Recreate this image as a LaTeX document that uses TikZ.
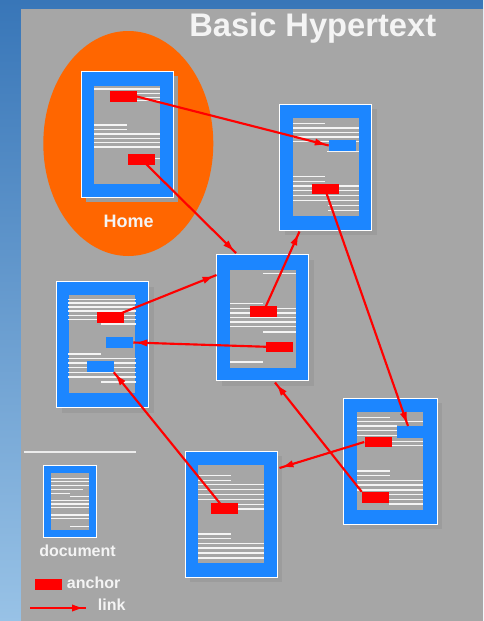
\documentclass[tikz,border=0pt]{standalone}
\usepackage{fontspec}
\setmainfont{Liberation Sans}
\usetikzlibrary{arrows.meta,decorations.markings}
\definecolor{bgtop}{RGB}{56,118,184}
\definecolor{bgbot}{RGB}{152,194,230}
\definecolor{panel}{RGB}{166,166,166}
\definecolor{shadowgray}{RGB}{156,156,156}
\definecolor{docblue}{RGB}{28,134,255}
\definecolor{homeorange}{RGB}{255,102,0}
\definecolor{ancred}{RGB}{255,0,0}
\definecolor{txtwhite}{RGB}{244,244,244}
\pgfdeclarelayer{linklayer}
\pgfdeclarelayer{toplayer}
\pgfsetlayers{main,linklayer,toplayer}
\tikzset{
  docframe/.style={rectangle, fill=docblue, draw=white, line width=0.6pt, inner sep=0pt, minimum width=69pt, minimum height=94.5pt},
  docshadow/.style={rectangle, fill=shadowgray, inner sep=0pt, minimum width=69pt, minimum height=94.5pt},
  docinner/.style={rectangle, fill=panel, inner sep=0pt, minimum width=49.5pt, minimum height=73.5pt},
  redanc/.style={rectangle, fill=ancred, inner sep=0pt, minimum width=20.25pt, minimum height=7.9pt},
  blueanc/.style={rectangle, fill=docblue, inner sep=0pt, minimum width=20.25pt, minimum height=8.2pt},
  txt/.style={draw=txtwhite, line width=1.1pt},
  hlink/.style={draw=ancred, line width=1.6pt, postaction={decorate},
    decoration={markings, mark=at position -3pt with {\arrow[ancred]{Triangle[length=7.5pt,width=4.8pt]}}}},
  lbl/.style={text=txtwhite, font=\bfseries, inner sep=0pt}
}
\begin{document}
\begin{tikzpicture}[x=0.75pt,y=-0.75pt]
\useasboundingbox (0,0) rectangle (483,621);
% background
\shade[top color=bgtop, bottom color=bgbot] (0,0) rectangle (483,621);
\fill[panel] (21,9) rectangle (483,621);
% home ellipse
\fill[homeorange] (128.3,143.5) ellipse [x radius=85, y radius=112.5];
\node[lbl, font=\bfseries\fontsize{13.5}{15}\selectfont] (homelbl) at (128.7,221) {Home};
% shadows
\node[docshadow] (s1) at (132,139) {};
\node[docshadow] (s2) at (330.5,172) {};
\node[docshadow] (s3) at (267.5,322.5) {};
\node[docshadow] (s4) at (107.5,349.5) {};
\node[docshadow] (s5) at (395.5,466) {};
\node[docshadow] (s6) at (236.3,519.3) {};
% documents
\node[docframe] (d1) at (127,134) {};
\node[docframe] (d2) at (325.5,167) {};
\node[docframe] (d3) at (262.5,317.5) {};
\node[docframe] (d4) at (102.5,344.5) {};
\node[docframe, minimum width=70pt] (d5) at (390.5,461) {};
\node[docframe] (d6) at (231.3,514.3) {};
\node[docinner] (i1) at (127.3,135) {};
\node[docinner] (i2) at (326,167) {};
\node[docinner] (i3) at (263,318.5) {};
\node[docinner] (i4) at (102,344) {};
\node[docinner] (i5) at (390.3,461) {};
\node[docinner] (i6) at (231,514.2) {};
% text lines
\foreach \y/\a/\b in {89/94/160,93.3/137/160,97.3/137/160,100.7/137/160,
  125/94/127,129.5/94/127,134.2/94/160,138.4/94/160,142.6/94/160,146.8/94/160,158.3/128/160}
  \draw[txt] (\a,\y) -- (\b,\y);
\foreach \y/\a/\b in {123.3/293/325,128/293/359,132.5/293/359,137/293/359,141.7/293/359,151.5/327/359,
  176.7/293/325,181.3/293/325,186/293/359,190.5/293/359,195.5/293/359,200.5/293/359,205.5/328/359,210.5/328/359}
  \draw[txt] (\a,\y) -- (\b,\y);
\foreach \y/\a/\b in {273.7/263/296,303.3/230/263,308.3/230/296,312.8/230/296,317.4/230/296,321.8/230/296,326.3/230/296,331.8/263/296,362/230/263}
  \draw[txt] (\a,\y) -- (\b,\y);
\foreach \y/\a/\b in {299.7/68/136,303.2/68/136,307/68/136,311/68/136,315.3/68/136,319.5/68/136,324/101/136,
  354/68/101,358.5/68/136,363/68/136,367.4/68/136,372.3/68/136,377/68/136,382/101/136}
  \draw[txt] (\a,\y) -- (\b,\y);
\foreach \y/\a/\b in {417.7/357/390,421.7/357/423,426/357/397,430.7/357/397,435.5/357/397,441.5/391/423,445.7/391/423,
  471/357/390,475.7/357/390,480.5/357/423,485/357/423,489.8/357/423,494.3/389/423,499.3/389/423,504/389/423}
  \draw[txt] (\a,\y) -- (\b,\y);
\foreach \y/\a/\b in {475.7/198/231,480.3/198/231,484.7/198/264,489.7/198/264,494.7/198/264,499.7/198/264,504.7/237/264,509/237/264,
  534/198/231,538.7/198/231,543.5/198/264,548/198/264,553/198/264,558/198/264}
  \draw[txt] (\a,\y) -- (\b,\y);
% blue anchors (targets)
\node[blueanc] (b2) at (342.5,145.5) {};
\node[blueanc] (b4a) at (119.5,342.5) {};
\node[blueanc] (b4b) at (100,366.5) {};
\node[blueanc, minimum height=9pt] (b5) at (410.5,431.8) {};
% link end points
\coordinate (e2) at (236,253);
\coordinate (e3) at (299.5,231.5);
\coordinate (e4) at (408,426);
\coordinate (e5) at (216.5,275);
\coordinate (e8) at (275,382.5);
\coordinate (e9) at (279.5,468);
% red anchors
\begin{pgfonlayer}{toplayer}
\node[redanc] (h1) at (123,96.5) {};
\node[redanc] (h2) at (141.5,159.5) {};
\node[redanc] (r2) at (325,189) {};
\node[redanc] (r3a) at (263.5,311.5) {};
\node[redanc] (r3b) at (279.5,347.2) {};
\node[redanc] (r4) at (110.5,317.5) {};
\node[redanc] (r5a) at (378,442) {};
\node[redanc] (r5b) at (375.5,497.3) {};
\node[redanc] (r6) at (224,508.3) {};
\end{pgfonlayer}
% links
\begin{pgfonlayer}{linklayer}
\draw[hlink] (h1.east) -- (b2.west);
\draw[hlink] (h2.center) -- (e2);
\draw[hlink] (r3a.center) -- (e3);
\draw[hlink] (r2.center) -- (e4);
\draw[hlink] (r4.center) -- (e5);
\draw[hlink] (r3b.center) -- (b4a.east);
\draw[hlink] (r6.center) -- (b4b.south east);
\draw[hlink] (r5b.north west) -- (e8);
\draw[hlink] (r5a.west) -- (e9);
\end{pgfonlayer}
% title
\node[lbl, anchor=base west, font=\bfseries\fontsize{24.5}{28}\selectfont] (title) at (189,36.7) {Basic Hypertext};
% legend
\draw[draw=txtwhite!90!panel, line width=0.9pt] (24,452) -- (136,452);
\node[rectangle, fill=docblue, draw=white, line width=0.6pt, inner sep=0pt, minimum width=39.5pt, minimum height=54pt] (ld) at (69.7,501.7) {};
\node[rectangle, fill=panel, inner sep=0pt, minimum width=28.7pt, minimum height=42.5pt] (ldi) at (70.2,501.7) {};
\foreach \y/\a/\b in {478.3/51/88.5,481.7/51/88.5,485.3/51/88.5,489.8/51/83,493.3/51/70,496.8/70/88.5,500.7/51/88.5,504/51/88.5,507.4/51/88.5,515/51/88.5,518.4/51/88.5,526.5/70/88.5}
  \draw[txt, line width=0.9pt] (\a,\y) -- (\b,\y);
\node[lbl, anchor=base, font=\bfseries\fontsize{12}{14}\selectfont] (doclbl) at (77.5,556.5) {document};
\node[redanc] (lanc) at (48.5,584.5) {};
\node[lbl, anchor=base west, font=\bfseries\fontsize{12}{14}\selectfont] (anclbl) at (66.7,588) {anchor};
\coordinate (l1) at (30,608);
\coordinate (l2) at (86,608);
\draw[hlink] (l1) -- (l2);
\node[lbl, anchor=base west, font=\bfseries\fontsize{12}{14}\selectfont] (linklbl) at (97.7,610) {link};
\end{tikzpicture}
\end{document}
